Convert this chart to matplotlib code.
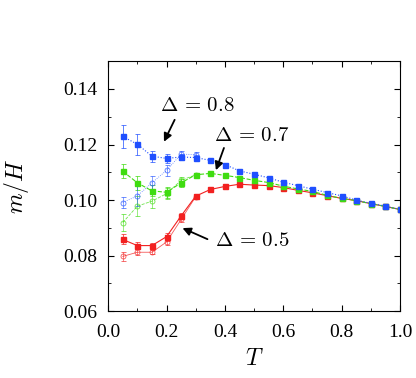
import numpy as np
import matplotlib
matplotlib.use('Agg')
from matplotlib import pyplot as plt

plt.rcParams['font.family'] = 'Liberation Serif'
plt.rcParams['mathtext.fontset'] = 'cm'

T = [0.05, 0.1, 0.15, 0.2, 0.25, 0.3, 0.35, 0.4, 0.45, 0.5, 0.55, 0.6,
     0.65, 0.7, 0.75, 0.8, 0.85, 0.9, 0.95, 1.0]
T_open = [0.05, 0.1, 0.15, 0.2, 0.25, 0.3]

# filled squares
m08 = [0.1229, 0.1201, 0.1158, 0.1150, 0.1155, 0.1153, 0.1143, 0.1128, 0.1105,
       0.1093, 0.1080, 0.1064, 0.1052, 0.1039, 0.1027, 0.1015, 0.1000, 0.0988,
       0.0978, 0.0966]
m07 = [0.1104, 0.1062, 0.1033, 0.1028, 0.1062, 0.1091, 0.1096, 0.1089, 0.1081,
       0.1071, 0.1063, 0.1050, 0.1040, 0.1031, 0.1017, 0.1006, 0.0998, 0.0987,
       0.0977, 0.0966]
m05 = [0.0858, 0.0836, 0.0836, 0.0868, 0.0943, 0.1014, 0.1038, 0.1049, 0.1057,
       0.1054, 0.1052, 0.1045, 0.1035, 0.1026, 0.1016, 0.1006, 0.0998, 0.0987,
       0.0977, 0.0966]
e08 = [0.0040, 0.0038, 0.0020, 0.0015, 0.0012, 0.0008] + [0.0004] * 14
e07 = [0.0025, 0.0025, 0.0020, 0.0020, 0.0015, 0.0008] + [0.0004] * 14
e05 = [0.0018, 0.0012, 0.0010, 0.0015, 0.0010, 0.0006] + [0.0003] * 14

# open circles
o08 = [0.0991, 0.1015, 0.1062, 0.1107, 0.1165, 0.1164]
o07 = [0.0919, 0.0978, 0.0996, 0.1023, 0.1071, 0.1091]
o05 = [0.0797, 0.0812, 0.0812, 0.0849, 0.0930, 0.1012]
eo08 = [0.0020, 0.0035, 0.0025, 0.0020, 0.0010, 0.0008]
eo07 = [0.0030, 0.0035, 0.0025, 0.0020, 0.0012, 0.0008]
eo05 = [0.0015, 0.0010, 0.0008, 0.0010, 0.0008, 0.0006]

blue = '#1f4fff'
green = '#3fdc10'
red = '#f22020'

fig = plt.figure(figsize=(4.16, 3.78), dpi=100)
ax = fig.add_axes([0.26, 0.177, 0.7015, 0.661])

for y, e, yo, eo, c, ls in [(m05, e05, o05, eo05, red, '-'),
                            (m07, e07, o07, eo07, green, '--'),
                            (m08, e08, o08, eo08, blue, ':')]:
    ax.errorbar(T_open, yo, yerr=eo, color=c, ls=ls, lw=0.6, marker='o',
                ms=3.6, mfc='none', mew=0.6, capsize=1.8, elinewidth=0.5,
                capthick=0.5, alpha=0.75)
    ax.errorbar(T, y, yerr=e, color=c, ls=ls, lw=0.8, marker='s', ms=3.6,
                capsize=1.8, elinewidth=0.5, capthick=0.5)

ax.set_xlim(0, 1.0)
ax.set_ylim(0.06, 0.15)
ax.set_xticks(np.arange(0, 1.01, 0.2))
ax.set_xticks(np.arange(0.1, 1.0, 0.2), minor=True)
ax.set_yticks(np.arange(0.06, 0.141, 0.02))
ax.set_yticks(np.arange(0.07, 0.15, 0.02), minor=True)
ax.set_xticklabels(['0.0', '0.2', '0.4', '0.6', '0.8', '1.0'])
ax.set_yticklabels(['0.06', '0.08', '0.10', '0.12', '0.14'])
ax.tick_params(which='both', direction='in', top=True, right=True, labelsize=14)
ax.tick_params(axis='x', pad=9)
ax.tick_params(axis='y', pad=8)
ax.tick_params(which='major', length=4)
ax.tick_params(which='minor', length=2)
ax.set_xlabel('$T$', fontsize=17, labelpad=6)
ax.set_ylabel('$m/H$', fontsize=17, labelpad=23)

arr = dict(arrowstyle='-|>', color='k', lw=1.3, mutation_scale=12)
ax.text(0.304, 0.1338, r'$\Delta\,=\,0.8$', fontsize=15, ha='center', va='center')
ax.annotate('', xy=(0.187, 0.1201), xytext=(0.232, 0.1298), arrowprops=arr)
ax.text(0.493, 0.1230, r'$\Delta\,=\,0.7$', fontsize=15, ha='center', va='center')
ax.annotate('', xy=(0.366, 0.1098), xytext=(0.400, 0.1197), arrowprops=arr)
ax.text(0.493, 0.0852, r'$\Delta\,=\,0.5$', fontsize=15, ha='center', va='center')
ax.annotate('', xy=(0.246, 0.0903), xytext=(0.349, 0.0855), arrowprops=arr)

fig.savefig('out.png', dpi=100)
